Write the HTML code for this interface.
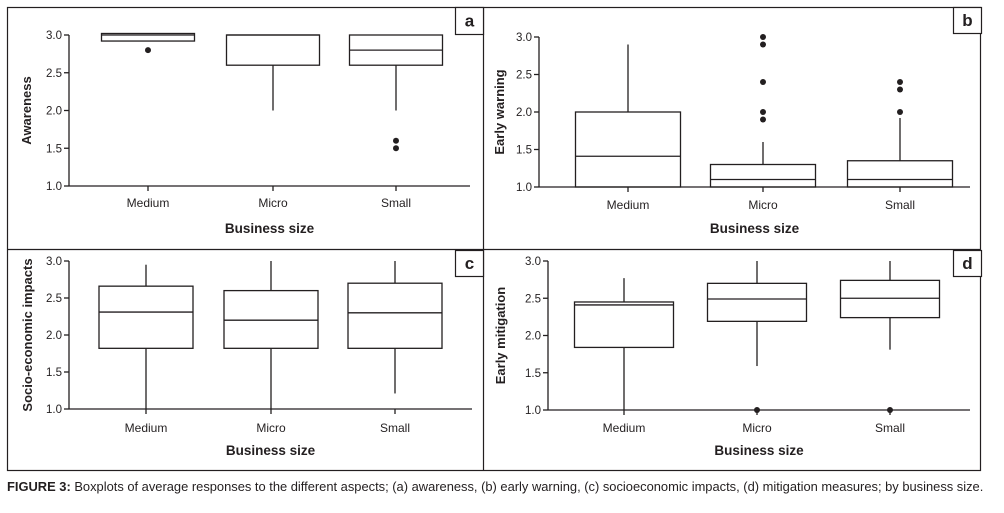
<!DOCTYPE html>
<html><head><meta charset="utf-8"><style>
body{margin:0;background:#fff;width:1004px;height:508px;overflow:hidden;font-family:"Liberation Sans",sans-serif}
svg text{font-family:"Liberation Sans",sans-serif;fill:#231f20}
</style></head><body>
<svg id="fig" width="1004" height="508" viewBox="0 0 1004 508">
<rect x="7.5" y="7.5" width="973" height="463" fill="none" stroke="#231f20" stroke-width="1.2"/>
<line x1="483.5" y1="7" x2="483.5" y2="471" stroke="#231f20" stroke-width="1.2"/>
<line x1="7" y1="249.5" x2="981" y2="249.5" stroke="#231f20" stroke-width="1.2"/>
<text x="7" y="491" font-size="12.9"><tspan font-weight="bold">FIGURE 3:</tspan> Boxplots of average responses to the different aspects; (a) awareness, (b) early warning, (c) socioeconomic impacts, (d) mitigation measures; by business size.</text>
</svg>
<script>
const categories = ["Medium","Micro","Small"];
const yTicks = [1.0,1.5,2.0,2.5,3.0];
const yTickLabels = ["1.0","1.5","2.0","2.5","3.0"];
// [lowWhisker, Q1, median, Q3, highWhisker]
const awarenessStats = [[2.92,2.92,3.0,3.02,3.02],[2.0,2.6,3.0,3.0,3.0],[2.0,2.6,2.8,3.0,3.0]];
const awarenessOutliers = [[2.8],[],[1.6,1.5]];
const warningStats = [[1.0,1.0,1.41,2.0,2.9],[1.0,1.0,1.1,1.3,1.6],[1.0,1.0,1.1,1.35,1.92]];
const warningOutliers = [[],[1.9,2.0,2.4,2.9,3.0],[2.0,2.3,2.4]];
const socioStats = [[1.0,1.82,2.31,2.66,2.95],[1.0,1.82,2.2,2.6,3.0],[1.21,1.82,2.3,2.7,3.0]];
const socioOutliers = [[],[],[]];
const mitigationStats = [[1.0,1.84,2.41,2.45,2.77],[1.59,2.19,2.49,2.7,3.0],[1.81,2.24,2.5,2.74,3.0]];
const mitigationOutliers = [[],[1.0],[1.0]];

const NS="http://www.w3.org/2000/svg";
const svg=document.getElementById('fig');
function mk(tag,attrs,parent){const e=document.createElementNS(NS,tag);for(const k in attrs)e.setAttribute(k,attrs[k]);(parent||svg).appendChild(e);return e;}

const panels=[
 {id:'a',title:'Awareness',stats:awarenessStats,out:awarenessOutliers,ax:69,x2:470,yTop:35,yBot:186,cx:[148,273,396],bw:93,lab:[455,7,28,27],tickY:207,titleY:233,ytc:26},
 {id:'b',title:'Early warning',stats:warningStats,out:warningOutliers,ax:539,x2:970,yTop:37,yBot:187,cx:[628,763,900],bw:105,lab:[953,7,28,26],tickY:209,titleY:233,ytc:499},
 {id:'c',title:'Socio-economic impacts',stats:socioStats,out:socioOutliers,ax:69,x2:472,yTop:261,yBot:409,cx:[146,271,395],bw:94,lab:[455,250,28,26],tickY:432,titleY:455,ytc:27},
 {id:'d',title:'Early mitigation',stats:mitigationStats,out:mitigationOutliers,ax:548,x2:970,yTop:261,yBot:410,cx:[624,757,890],bw:99,lab:[953,250,28,26],tickY:432,titleY:455,ytc:500}
];
panels.forEach(p=>{
 const g=mk('g',{});
 
 
 const y=v=>p.yBot-(v-1)/(3-1)*(p.yBot-p.yTop);
 const st={stroke:'#231f20','stroke-width':1.3,fill:'none'};
 const ya=mk('line',Object.assign({x1:p.ax,y1:p.yTop,x2:p.ax,y2:p.yBot},st),g);
 
 
 const xa=mk('line',Object.assign({x1:p.ax,y1:p.yBot,x2:p.x2,y2:p.yBot},st),g);
 
 
 yTicks.forEach((t,i)=>{
  mk('line',Object.assign({x1:p.ax-5,y1:y(t),x2:p.ax,y2:y(t)},st),g);
  const tx=mk('text',{x:p.ax-7,y:y(t)+4,'font-size':11.5,'text-anchor':'end'},g);
  tx.textContent=yTickLabels[i];
  
  
 });
 categories.forEach((c,i)=>{
  const cx=p.cx[i];
  mk('line',Object.assign({x1:cx,y1:p.yBot,x2:cx,y2:p.yBot+5},st),g);
  const tx=mk('text',{x:cx,y:p.tickY,'font-size':12,'text-anchor':'middle'},g);
  tx.textContent=c;
  
  
  const s=p.stats[i];
  const bg=mk('g',{},g);
  
  
  mk('line',Object.assign({x1:cx,y1:y(s[0]),x2:cx,y2:y(s[1])},st),bg);
  mk('line',Object.assign({x1:cx,y1:y(s[3]),x2:cx,y2:y(s[4])},st),bg);
  mk('rect',Object.assign({x:cx-p.bw/2,y:y(s[3]),width:p.bw,height:y(s[1])-y(s[3])},st),bg);
  mk('line',Object.assign({x1:cx-p.bw/2,y1:y(s[2]),x2:cx+p.bw/2,y2:y(s[2])},st),bg);
  p.out[i].forEach(o=>{
   const d=mk('circle',{cx:cx,cy:y(o),r:3,fill:'#231f20'},bg);
   
   
  });
 });
 const xt=mk('text',{x:(p.ax+p.x2)/2,y:p.titleY,'font-size':13.5,'font-weight':'bold','text-anchor':'middle'},g);
 xt.textContent='Business size';
 
 
 const ym=(p.yTop+p.yBot)/2;
 const bx=p.ytc+5;
 const yt=mk('text',{x:bx,y:ym,'font-size':13,'font-weight':'bold','text-anchor':'middle',transform:`rotate(-90 ${bx} ${ym})`},g);
 yt.textContent=p.title;
 
 
 const L=p.lab;
 const lb=mk('rect',{x:L[0]+0.5,y:L[1]+0.5,width:L[2],height:L[3],fill:'#fff',stroke:'#231f20','stroke-width':1.2},g);
 
 
 const lt=mk('text',{x:L[0]+L[2]/2+0.5,y:L[1]+L[3]/2+6,'font-size':17,'font-weight':'bold','text-anchor':'middle'},g);
 lt.textContent=p.id;
 
 
});
</script>
</body></html>
